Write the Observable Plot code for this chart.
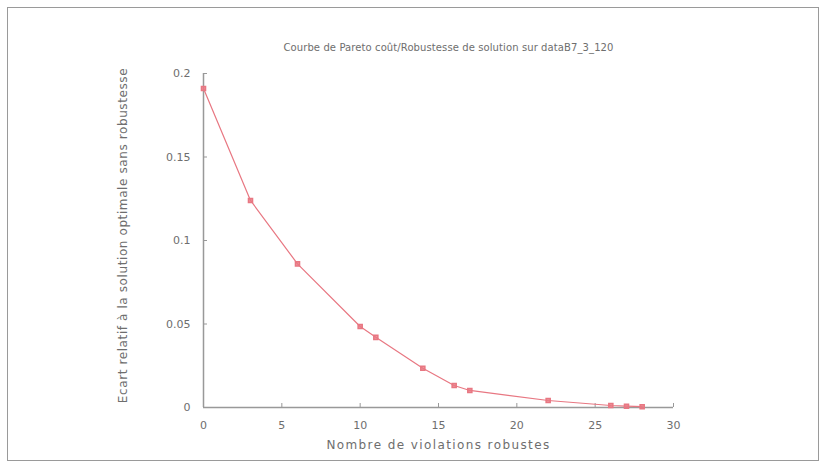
<!DOCTYPE html>
<html>
<head>
<meta charset="utf-8">
<script src="https://cdn.jsdelivr.net/npm/d3@7"></script>
<script src="https://cdn.jsdelivr.net/npm/@observablehq/plot@0.6"></script>
<style>
  html, body { margin: 0; padding: 0; background: #fff; }
  #wrap { position: relative; width: 828px; height: 469px; }
  #frame { position: absolute; left: 7px; top: 7px; width: 812px; height: 454px; border: 1px solid #9a9a9a; box-sizing: border-box; pointer-events: none; }
  svg { font-family: "DejaVu Sans", sans-serif; }
</style>
</head>
<body>
<div id="wrap"><div id="frame"></div></div>
<script>
const violations = [0, 3, 6, 10, 11, 14, 16, 17, 22, 26, 27, 28];
const ecart = [0.191, 0.124, 0.086, 0.0485, 0.042, 0.0235, 0.0132, 0.0102, 0.0042, 0.0012, 0.0008, 0.0005];
const xTicks = [0, 5, 10, 15, 20, 25, 30];
const yTicks = [0, 0.05, 0.1, 0.15, 0.2];
const titleText = "Courbe de Pareto coût/Robustesse de solution sur dataB7_3_120";
const xLabel = "Nombre de violations robustes";
const yLabel = "Ecart relatif à la solution optimale sans robustesse";

const data = violations.map((v, i) => ({x: v, y: ecart[i]}));
const lineColor = "#e87782";
const textColor = "#6e6e6e";

const chart = Plot.plot({
  width: 828,
  height: 469,
  marginLeft: 203,
  marginRight: 155,
  marginTop: 73,
  marginBottom: 62,
  style: {fontSize: "11px", color: textColor, background: "transparent", fontFamily: "DejaVu Sans, sans-serif"},
  x: {domain: [0, 30], ticks: xTicks, label: null},
  y: {domain: [0, 0.2], ticks: yTicks, label: null},
  marks: [
    Plot.axisX({ticks: xTicks, tickSize: -4, tickPadding: 18, tickFormat: d => String(d), stroke: "#999", fill: textColor}),
    Plot.axisY({ticks: yTicks, tickSize: -4, tickPadding: 17, tickFormat: d => String(+d.toFixed(2)), stroke: "#999", fill: textColor}),
    Plot.ruleX([0], {stroke: "#999", strokeWidth: 1.5}),
    Plot.ruleY([0], {stroke: "#999", strokeWidth: 1.5}),
    Plot.line(data, {x: "x", y: "y", stroke: lineColor, strokeWidth: 1.2}),
    Plot.dot(data, {x: "x", y: "y", symbol: "square", r: 2.3, fill: lineColor, fillOpacity: 0.8, stroke: lineColor}),
    Plot.text([titleText], {frameAnchor: "top", dy: -30, dx: 10, text: d => d, fill: textColor, fontSize: 10, className: "title-t"}),
    Plot.text([xLabel], {frameAnchor: "bottom", dy: 41, dx: 0, text: d => d, fill: textColor, fontSize: 12, className: "xlab-t"}),
    Plot.text([yLabel], {frameAnchor: "left", dx: -80, dy: -5, rotate: -90, textAnchor: "middle", text: d => d, fill: textColor, fontSize: 12, className: "ylab-t"})
  ]
});
document.getElementById("wrap").appendChild(chart);
d3.select(chart).selectAll(".title-t text").attr("letter-spacing", "0.1px");
d3.select(chart).selectAll(".xlab-t text").attr("letter-spacing", "1.4px");
d3.select(chart).selectAll(".ylab-t text").attr("letter-spacing", "0.6px");
</script>
</body>
</html>
